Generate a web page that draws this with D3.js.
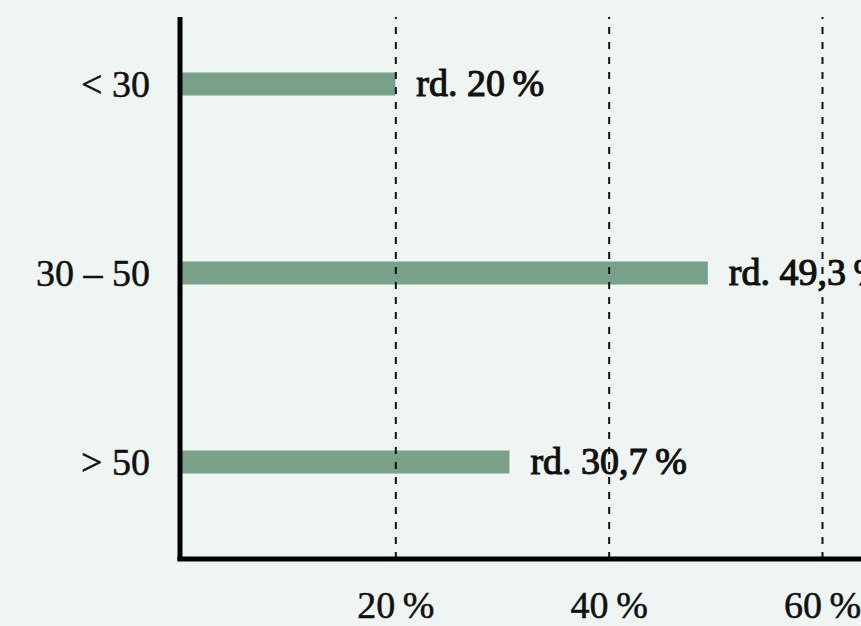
<!DOCTYPE html>
<html>
<head>
<meta charset="utf-8">
<script src="https://cdn.jsdelivr.net/npm/d3@7"></script>
<style>
  html, body { margin: 0; padding: 0; background: #eff5f2; }
  svg { display: block; }
  text { font-family: "Liberation Serif", "Times New Roman", serif; fill: #111; }
</style>
</head>
<body>
<svg id="chart" width="861" height="626"></svg>
<script>
// Altersgruppen und ihr Anteil in Prozent
const categories = ["< 30", "30 – 50", "> 50"];
const shares = [20, 49.3, 30.7];
const tickValues = [20, 40, 60];

const W = 861, H = 626;
const axisX = 180, axisTop = 17, axisBottom = 559;
const ink = "#111";

const de = d3.formatLocale({ decimal: ",", thousands: ".", grouping: [3], currency: ["", " €"] });
const num = de.format(".1~f");
const NNBSP = "\u202F";

const data = categories.map((c, i) => ({ cat: c, value: shares[i] }));

const svg = d3.select("#chart");
svg.append("rect").attr("width", W).attr("height", H).attr("fill", "#eff5f2");

const x = d3.scaleLinear().domain([0, 60]).range([182, 822]);
const y = d3.scalePoint().domain(categories).range([84, 462]);
const barH = 23;

// Balken
svg.append("g").selectAll("rect").data(data).join("rect")
  .attr("x", x(0))
  .attr("y", d => y(d.cat) - barH / 2)
  .attr("width", d => x(d.value) - x(0))
  .attr("height", barH)
  .attr("fill", "#79a18a");

// Gestrichelte Hilfslinien und Achsenbeschriftung
const xAxis = d3.axisBottom(x)
  .tickValues(tickValues)
  .tickSizeInner(-(axisBottom - axisTop))
  .tickSizeOuter(0)
  .tickPadding(0)
  .tickFormat(d => num(d) + NNBSP + "%");

const gx = svg.append("g").attr("transform", `translate(0,${axisBottom})`).call(xAxis);
gx.select(".domain").remove();
gx.selectAll(".tick line")
  .attr("stroke", ink)
  .attr("stroke-width", 2)
  .attr("stroke-dasharray", "7 8");
gx.selectAll(".tick text")
  .attr("y", 59)
  .attr("dy", 0)
  .attr("font-size", 38)
  .attr("font-family", "Liberation Serif, serif")
  .attr("fill", ink)
  .attr("stroke", ink)
  .attr("stroke-width", 0.5);

// Achsenlinien
svg.append("line")
  .attr("x1", axisX).attr("x2", axisX)
  .attr("y1", axisTop).attr("y2", axisBottom + 2)
  .attr("stroke", "#000").attr("stroke-width", 5);
svg.append("line")
  .attr("x1", axisX - 2.5).attr("x2", W)
  .attr("y1", axisBottom).attr("y2", axisBottom)
  .attr("stroke", "#000").attr("stroke-width", 5);

// Kategorien
svg.append("g").selectAll("text").data(data).join("text")
  .attr("x", 150)
  .attr("y", d => y(d.cat))
  .attr("dy", "0.35em")
  .attr("text-anchor", "end")
  .attr("font-size", 38)
  .attr("stroke", ink)
  .attr("stroke-width", 0.5)
  .text(d => d.cat);

// Wertebeschriftung
svg.append("g").selectAll("text").data(data).join("text")
  .attr("x", d => x(d.value) + 21)
  .attr("y", d => y(d.cat))
  .attr("dy", "0.32em")
  .attr("font-size", 38)
  .attr("stroke", ink)
  .attr("stroke-width", 1.1)
  .text(d => "rd. " + num(d.value) + NNBSP + "%");
</script>
</body>
</html>
